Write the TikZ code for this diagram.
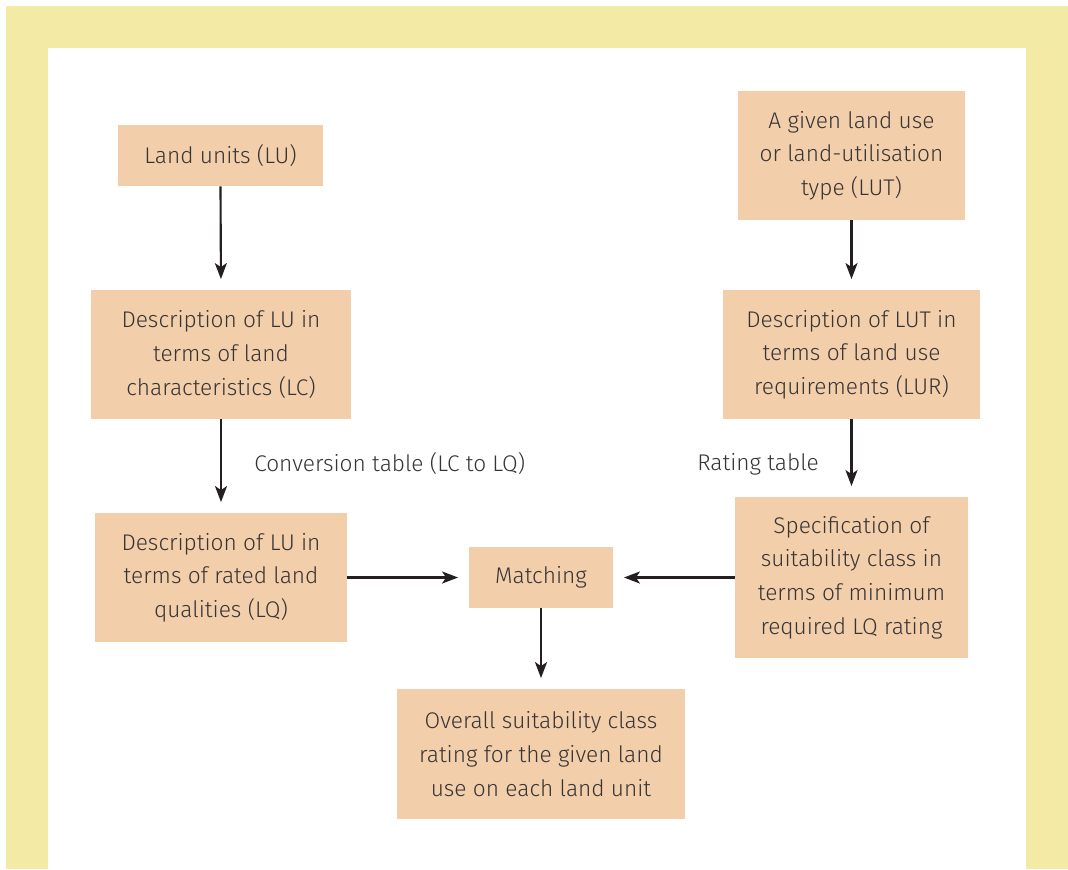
\documentclass[tikz,border=0pt]{standalone}
\usepackage{fontspec}
\setmainfont{Fira Sans}[UprightFont={* Light}]
\usetikzlibrary{arrows.meta}
\definecolor{frameyellow}{RGB}{243,235,165}
\definecolor{boxpeach}{RGB}{242,206,170}
\definecolor{txtgray}{RGB}{55,52,53}
\definecolor{arrowgray}{RGB}{35,31,32}
\tikzset{
  box/.style={fill=boxpeach, draw=none, inner sep=0pt, align=center, text=txtgray,
    font=\fontsize{17}{25.2}\selectfont},
  conn/.style={draw=arrowgray, line width=1.6pt, -{Stealth[length=12pt,width=9pt,inset=3pt]}, shorten >=8pt},
  lbl/.style={text=txtgray, font=\fontsize{17}{25.2}\selectfont, inner sep=0pt}
}
\begin{document}
\begin{tikzpicture}[x=0.75pt,y=-0.75pt]
\useasboundingbox (0,0) rectangle (1068,869);
\fill[frameyellow] (6,6) rectangle (1068,869);
\fill[white] (48,48) rectangle (1026,869);
% boxes (corner coordinates in px)
\node[box, minimum width=205*0.75pt, minimum height=61*0.75pt] (lu) at (220.5,155.5) {Land units (LU)};
\node[box, minimum width=260*0.75pt, minimum height=129*0.75pt] (lc) at (221,354.5) {Description of LU in\\terms of land\\characteristics (LC)};
\node[box, minimum width=252*0.75pt, minimum height=129*0.75pt] (lq) at (221,577.5) {Description of LU in\\terms of rated land\\qualities (LQ)};
\node[box, minimum width=144*0.75pt, minimum height=61*0.75pt] (match) at (541,577.5) {Matching};
\node[box, minimum width=288*0.75pt, minimum height=130*0.75pt] (overall) at (541,754) {Overall suitability class\\rating for the given land\\use on each land unit};
\node[box, minimum width=227*0.75pt, minimum height=129*0.75pt] (lut) at (851.5,155.5) {A given land use\\or land-utilisation\\type (LUT)};
\node[box, minimum width=257*0.75pt, minimum height=129*0.75pt] (lur) at (851.5,354.5) {Description of LUT in\\terms of land use\\requirements (LUR)};
\node[box, minimum width=233*0.75pt, minimum height=161*0.75pt] (spec) at (851.5,577.5) {Specification of\\suitability class in\\terms of minimum\\required LQ rating};
% labels
\node[lbl, anchor=west] (conv) at (254,464) {Conversion table (LC to LQ)};
\node[lbl, anchor=west] (rate) at (697,464) {Rating table};
% connectors
\draw[conn] (lu.south) -- (lc.north);
\draw[conn] (lc.south) -- (lq.north);
\draw[conn] (lut.south) -- (lur.north);
\draw[conn] (lur.south) -- (spec.north);
\draw[conn] (lq.east) -- (match.west);
\draw[conn] (spec.west) -- (match.east);
\draw[conn] (match.south) -- (overall.north);
\end{tikzpicture}
\end{document}
